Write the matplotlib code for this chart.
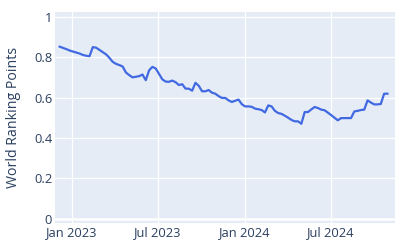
import numpy as np
import pandas as pd
import matplotlib
matplotlib.use("Agg")
import matplotlib.pyplot as plt
import matplotlib.dates as mdates

# weekly world ranking points
start_date = "2022-12-06"
points = [0.852, 0.846, 0.840, 0.833, 0.828, 0.823, 0.818, 0.811, 0.807, 0.805,
          0.850, 0.847, 0.836, 0.825, 0.814, 0.797, 0.777, 0.767, 0.761, 0.754,
          0.724, 0.711, 0.700, 0.703, 0.706, 0.714, 0.686, 0.735, 0.752, 0.744,
          0.717, 0.690, 0.679, 0.678, 0.684, 0.676, 0.662, 0.666, 0.644, 0.644,
          0.634, 0.673, 0.658, 0.631, 0.631, 0.637, 0.624, 0.619, 0.607, 0.598,
          0.598, 0.586, 0.578, 0.584, 0.590, 0.567, 0.556, 0.556, 0.554, 0.545,
          0.542, 0.538, 0.526, 0.561, 0.556, 0.534, 0.523, 0.519, 0.510, 0.500,
          0.489, 0.482, 0.482, 0.470, 0.528, 0.528, 0.541, 0.553, 0.548, 0.540,
          0.537, 0.525, 0.513, 0.500, 0.487, 0.498, 0.498, 0.498, 0.498, 0.531,
          0.534, 0.538, 0.540, 0.586, 0.575, 0.566, 0.566, 0.568, 0.619, 0.619]
dates = pd.date_range(start_date, periods=len(points), freq="7D")

y_ticks = [0, 0.2, 0.4, 0.6, 0.8, 1]
y_labels = ["0", "0.2", "0.4", "0.6", "0.8", "1"]
x_ticks = pd.to_datetime(["2023-01-01", "2023-07-01", "2024-01-01", "2024-07-01"])
x_labels = ["Jan 2023", "Jul 2023", "Jan 2024", "Jul 2024"]

text_color = "#2a3f5f"
plt.rcParams["font.family"] = ["Open Sans", "DejaVu Sans"]

fig = plt.figure(figsize=(4, 2.5), dpi=100)
ax = fig.add_axes([0.1375, 0.108, 0.85, 0.844])
ax.set_facecolor("#E5ECF6")
for s in ax.spines.values():
    s.set_visible(False)

ax.plot(dates, points, color="#4169E1", linewidth=1.6, zorder=3)

ax.set_ylim(-0.022, 1.024)
ax.set_xlim(pd.Timestamp("2022-11-26"), pd.Timestamp("2024-11-14"))
ax.set_yticks(y_ticks)
ax.set_yticklabels(y_labels)
ax.set_xticks(x_ticks)
ax.set_xticklabels(x_labels)
ax.grid(True, color="white", linewidth=0.9, zorder=1)
ax.axhline(0, color="white", linewidth=1.8, zorder=2)
ax.tick_params(length=0, labelsize=9.3, colors=text_color)
ax.tick_params(axis="y", pad=2)
ax.tick_params(axis="x", pad=2)
ax.set_ylabel("World Ranking Points", fontsize=10.2, color=text_color, labelpad=9)

fig.savefig("out.png", dpi=100)
